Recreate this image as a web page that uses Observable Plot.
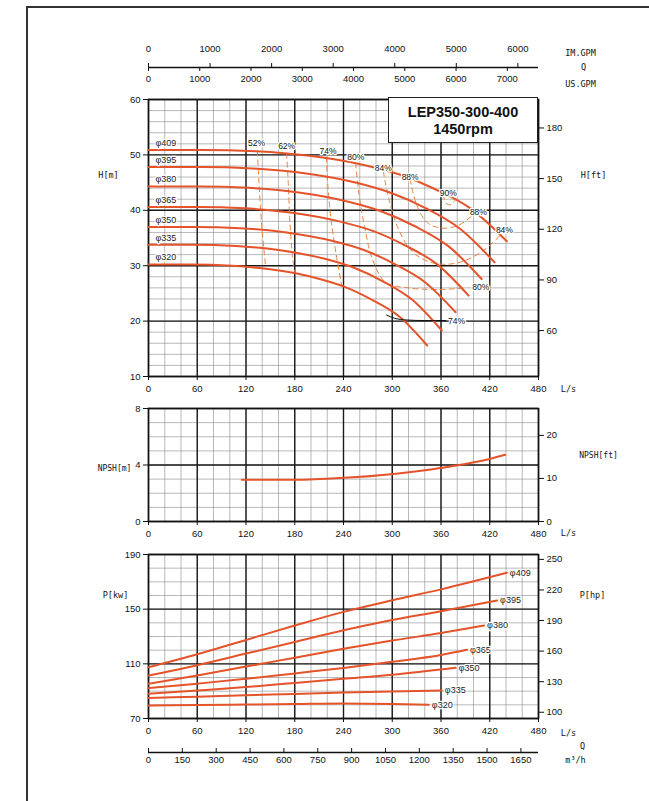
<!DOCTYPE html>
<html><head><meta charset="utf-8">
<script src="https://cdn.jsdelivr.net/npm/d3@7"></script>
<script src="https://cdn.jsdelivr.net/npm/@observablehq/plot@0.6"></script>
<style>
body{margin:0;background:#fff;}
#wrap{position:relative;width:649px;height:801px;overflow:hidden;background:#fff;font-family:"Liberation Sans",Arial,sans-serif;}
#wrap svg{position:absolute;left:0;top:0;}
#frame{position:absolute;left:26px;top:6px;width:700px;height:830px;border-left:2px solid #333;border-top:2px solid #333;box-sizing:border-box;}
#title{position:absolute;left:388px;top:97px;width:150px;height:46px;background:#fff;border:1.5px solid #222;box-sizing:border-box;z-index:5;
 font:bold 14.5px "Liberation Sans",Arial,sans-serif;text-align:center;line-height:17px;padding-top:6px;color:#111;}
</style></head>
<body><div id="wrap"><div id="frame"></div></div>
<script>
// ---------- tick labels ----------
const lsTicks = [0,60,120,180,240,300,360,420,480];
const hTicks = [10,20,30,40,50,60];
const hFtTicks = [60,90,120,150,180];
const npshTicks = [0,4,8];
const npshFtTicks = [0,10,20];
const pTicks = [70,110,150,190];
const pHpTicks = [100,130,160,190,220,250];
const imGpmTicks = [0,1000,2000,3000,4000,5000,6000];
const usGpmTicks = [0,1000,2000,3000,4000,5000,6000,7000];
const m3hTicks = [0,150,300,450,600,750,900,1050,1200,1350,1500,1650];

// unit conversions
const M_TO_FT = 3.28084, KW_TO_HP = 1.34102, LS_TO_IM = 13.1981, LS_TO_US = 15.8503, LS_TO_M3H = 3.6;

// ---------- head curves (Q L/s, H m) ----------
const diameters = ["409","395","380","365","350","335","320"];
const headQ409 = [0,66,132,198,265,309,353,397,441];
const headH409 = [50.9,50.9,50.65,49.83,48.18,46.45,43.8,40.26,34.4];
const headQ395 = [0,64,128,192,256,298,341,383,426];
const headH395 = [47.8,47.8,47.54,46.68,44.96,43.16,40.4,36.71,30.6];
const headQ380 = [0,62,123,185,246,287,328,369,410];
const headH380 = [44.3,44.3,44.05,43.21,41.54,39.79,37.12,33.53,27.6];
const headQ365 = [0,59,118,177,236,276,315,355,394];
const headH365 = [40.6,40.6,40.36,39.56,37.96,36.28,33.72,30.28,24.6];
const headQ350 = [0,57,113,170,227,265,302,340,378];
const headH350 = [37.0,37.0,36.77,36.0,34.46,32.84,30.38,27.07,21.6];
const headQ335 = [0,54,108,162,217,253,289,325,361];
const headH335 = [33.8,33.8,33.57,32.79,31.24,29.62,27.14,23.8,18.3];
const headQ320 = [0,51,103,154,206,240,274,309,343];
const headH320 = [30.2,30.2,29.98,29.25,27.79,26.26,23.92,20.78,15.6];

// ---------- efficiency iso-lines ----------
const effNames = ["52%","62%","74%","80%","84%","88%","90%"];
const effQ52 = [134,136,139,142,144];           const effH52 = [50.7,45,38,33,30.0];
const effQ62 = [170,172,174,177,180];           const effH62 = [50.3,45,38,32,28.6];
const effQ74 = [219,221,225,231,238];           const effH74 = [49.6,44,38,32,26.2];
const effQ80 = [255,259,266,276,292,320,355,392]; const effH80 = [48.5,43,37,31,27,26,25.7,26];
const effQ84 = [289,296,308,325,350,380,410,433]; const effH84 = [47.0,42,36.5,32.5,30.5,30.5,32.5,35.5];
const effQ88 = [322,330,343,360,380,398,404];   const effH88 = [45.6,41,37.8,36.8,37.2,39,40];
const effQ90 = [363,366,372,377];               const effH90 = [42.8,41.3,41,41.8];
// efficiency labels
const effLabelText = ["52%","62%","74%","80%","84%","88%","90%","88%","84%","80%","74%"];
const effLabelQ = [133,170,221,255,289,322,369,406,438,409,379];
const effLabelH = [52.1,51.6,50.6,49.5,47.6,46.0,43.0,39.6,36.4,26.1,20.0];
// leader line to the lower 74% label
const leaderQ = [293,303,318,340,366];
const leaderH = [21.1,20.5,20.2,20.1,20.1];

// ---------- NPSH ----------
const npshQ = [115,181,240,302,361,421,439];
const npshM = [2.95,2.95,3.09,3.37,3.80,4.44,4.72];

// ---------- power curves (Q L/s, P kW) ----------
const powQ409 = [0,60,120,180,240,300,360,441]; const powP409 = [107.5,117,127.5,138,148,156.5,164.5,176.6];
const powQ395 = [0,60,120,180,240,300,360,429]; const powP395 = [101.5,109,117.5,126,134.5,142,148.5,156.3];
const powQ380 = [0,60,120,180,240,300,360,413]; const powP380 = [95.4,101.5,108,114.5,121,127,132.5,138];
const powQ365 = [0,60,120,180,240,300,360,392]; const powP365 = [92.2,95.5,99,103,107,111.5,116.5,120.3];
const powQ350 = [0,60,120,180,240,300,378];     const powP350 = [88.1,90.5,93,96,99,102,107.1];
const powQ335 = [0,60,120,180,240,300,361];     const powP335 = [85,86,87,88,89,89.8,90.5];
const powQ320 = [0,60,120,180,240,300,345];     const powP320 = [79.5,79.8,80.2,80.6,81,80.7,80];

// ---------- build tables ----------
const headQs = [headQ409,headQ395,headQ380,headQ365,headQ350,headQ335,headQ320];
const headHs = [headH409,headH395,headH380,headH365,headH350,headH335,headH320];
const headRows = diameters.flatMap((d,i)=>headQs[i].map((q,j)=>({d,Q:q,H:headHs[i][j]})));
const headLabels = diameters.map((d,i)=>({t:"φ"+d,Q:headQs[i][0],H:headHs[i][0]}));
const effQs = [effQ52,effQ62,effQ74,effQ80,effQ84,effQ88,effQ90];
const effHs = [effH52,effH62,effH74,effH80,effH84,effH88,effH90];
const effRows = effNames.flatMap((n,i)=>effQs[i].map((q,j)=>({n,Q:q,H:effHs[i][j]})));
const effLabels = effLabelText.map((t,i)=>({t,Q:effLabelQ[i],H:effLabelH[i]}));
const leaderRows = leaderQ.map((q,i)=>({Q:q,H:leaderH[i]}));
const npshRows = npshQ.map((q,i)=>({Q:q,N:npshM[i]}));
const powQs = [powQ409,powQ395,powQ380,powQ365,powQ350,powQ335,powQ320];
const powPs = [powP409,powP395,powP380,powP365,powP350,powP335,powP320];
const powRows = diameters.flatMap((d,i)=>powQs[i].map((q,j)=>({d,Q:q,P:powPs[i][j]})));
const powLabels = diameters.map((d,i)=>({t:"φ"+d,Q:powQs[i][powQs[i].length-1],P:powPs[i][powPs[i].length-1]}));

// ---------- styling ----------
const W = 649, H = 801, ML = 148, MR = 111;
const CURVE = "#e4532a";
const baseStyle = {background:"transparent",overflow:"visible",fontFamily:"'Liberation Sans',Arial,sans-serif",fontSize:"9.5px",color:"#111"};
const mono = "'DejaVu Sans Mono',monospace";
const minor = {stroke:"#8a8a8a",strokeOpacity:1,strokeWidth:0.6};
const major = {stroke:"#1a1a1a",strokeOpacity:1,strokeWidth:1.4};
const wrap = document.getElementById("wrap");
function add(svg){ wrap.appendChild(svg); }
function grid(xMinor,yMinor,xMajor,yMajor){
  return [Plot.gridX(xMinor,minor),Plot.gridY(yMinor,minor),Plot.gridX(xMajor,major),Plot.gridY(yMajor,major),Plot.frame({stroke:"#111",strokeWidth:1.5})];
}
function axisLabel(t,anchor,dx,dy,ta="middle",fs=8.5){
  return Plot.text([t],{text:d=>d,frameAnchor:anchor,dx,dy,textAnchor:ta,fontFamily:mono,fontSize:fs,fill:"#111"});
}

// ---------- top flow axes ----------
add(Plot.plot({
  width:W,height:H,marginLeft:ML,marginRight:MR,marginTop:66,marginBottom:H-67,
  style:baseStyle, x:{domain:[0,480],axis:null}, y:{domain:[0,1],axis:null},
  marks:[
    Plot.ruleY([0],{stroke:"#111",strokeWidth:1.3}),
    Plot.axisX(imGpmTicks.map(v=>v/LS_TO_IM),{anchor:"top",tickSize:4,tickPadding:11,tickFormat:d=>String(Math.round(d*LS_TO_IM)),label:null}),
    Plot.axisX(usGpmTicks.map(v=>v/LS_TO_US),{anchor:"bottom",tickSize:4,tickPadding:4,tickFormat:d=>String(Math.round(d*LS_TO_US)),label:null}),
    axisLabel("IM.GPM","top-right",42,-17),
    axisLabel("Q","top-right",45,-3),
    axisLabel("US.GPM","top-right",42,14)
  ]
}));

// ---------- H chart ----------
add(Plot.plot({
  width:W,height:H,marginLeft:ML,marginRight:MR,marginTop:99,marginBottom:H-376,
  style:baseStyle, x:{domain:[0,480]}, y:{domain:[10,60]},
  marks:[
    ...grid(d3.range(0,481,20),d3.range(10,61,2),lsTicks,hTicks),
    Plot.axisX(lsTicks,{anchor:"bottom",tickSize:4,tickPadding:5,label:null}),
    Plot.axisY(hTicks,{anchor:"left",tickSize:5,tickPadding:3,label:null}),
    Plot.axisY(hFtTicks.map(v=>v/M_TO_FT),{anchor:"right",tickSize:5,tickPadding:3,tickFormat:d=>String(Math.round(d*M_TO_FT)),label:null}),
    Plot.line(effRows,{x:"Q",y:"H",z:"n",curve:"catmull-rom",stroke:"#e9823f",strokeWidth:1,strokeDasharray:"5,4"}),
    Plot.line(headRows,{x:"Q",y:"H",z:"d",curve:"monotone-x",stroke:CURVE,strokeWidth:2}),
    Plot.line(leaderRows,{x:"Q",y:"H",curve:"monotone-x",stroke:"#111",strokeWidth:1}),
    Plot.text(headLabels,{x:"Q",y:"H",text:"t",dx:7,dy:-7,textAnchor:"start",fontSize:9,fill:"#222",stroke:"white",strokeWidth:2.5}),
    Plot.text(effLabels,{x:"Q",y:"H",text:"t",textAnchor:"middle",fontSize:8.5,fill:"#111",stroke:"white",strokeWidth:2.5}),
    axisLabel("H[m]","top-left",-40,72),
    axisLabel("H[ft]","top-right",55,72),
    axisLabel("L/s","bottom-right",30,15)
  ]
}));

// ---------- NPSH chart ----------
add(Plot.plot({
  width:W,height:H,marginLeft:ML,marginRight:MR,marginTop:408,marginBottom:H-521,
  style:baseStyle, x:{domain:[0,480]}, y:{domain:[0,8]},
  marks:[
    ...grid(d3.range(0,481,20),d3.range(0,9,1),lsTicks,npshTicks),
    Plot.axisX(lsTicks,{anchor:"bottom",tickSize:4,tickPadding:5,label:null}),
    Plot.axisY(npshTicks,{anchor:"left",tickSize:5,tickPadding:3,label:null}),
    Plot.axisY(npshFtTicks.map(v=>v/M_TO_FT),{anchor:"right",tickSize:5,tickPadding:3,tickFormat:d=>String(Math.round(d*M_TO_FT)),label:null}),
    Plot.line(npshRows,{x:"Q",y:"N",curve:"monotone-x",stroke:CURVE,strokeWidth:2}),
    axisLabel("NPSH[m]","top-left",-34,57,"middle",8),
    axisLabel("NPSH[ft]","top-right",60,44,"middle",8),
    axisLabel("L/s","bottom-right",30,14)
  ]
}));

// ---------- Power chart ----------
add(Plot.plot({
  width:W,height:H,marginLeft:ML,marginRight:MR,marginTop:554,marginBottom:H-718,
  style:baseStyle, x:{domain:[0,480]}, y:{domain:[70,190]},
  marks:[
    ...grid(d3.range(0,481,20),d3.range(70,191,10),lsTicks,pTicks),
    Plot.axisX(lsTicks,{anchor:"bottom",tickSize:4,tickPadding:5,label:null}),
    Plot.axisY(pTicks,{anchor:"left",tickSize:5,tickPadding:3,label:null}),
    Plot.axisY(pHpTicks.map(v=>v/KW_TO_HP),{anchor:"right",tickSize:5,tickPadding:3,tickFormat:d=>String(Math.round(d*KW_TO_HP)),label:null}),
    Plot.line(powRows,{x:"Q",y:"P",z:"d",curve:"monotone-x",stroke:CURVE,strokeWidth:2}),
    Plot.text(powLabels,{x:"Q",y:"P",text:"t",dx:3,textAnchor:"start",fontSize:9,fill:"#222",stroke:"white",strokeWidth:2.5}),
    axisLabel("P[kw]","top-left",-33,37),
    axisLabel("P[hp]","top-right",54,37),
    axisLabel("L/s","bottom-right",30,17)
  ]
}));

// ---------- bottom m3/h axis ----------
add(Plot.plot({
  width:W,height:H,marginLeft:ML,marginRight:MR,marginTop:751,marginBottom:H-752,
  style:baseStyle, x:{domain:[0,480],axis:null}, y:{domain:[0,1],axis:null},
  marks:[
    Plot.ruleY([0],{stroke:"#111",strokeWidth:1.3}),
    Plot.axisX(m3hTicks.map(v=>v/LS_TO_M3H),{anchor:"bottom",tickSize:-4,tickPadding:8,tickFormat:d=>String(Math.round(d*LS_TO_M3H)),label:null}),
    axisLabel("Q","bottom-right",44,-4),
    axisLabel("m³/h","bottom-right",37,10)
  ]
}));

const title = document.createElement("div");
title.id = "title";
title.innerHTML = "LEP350-300-400<br>1450rpm";
wrap.appendChild(title);
</script>
</body></html>
